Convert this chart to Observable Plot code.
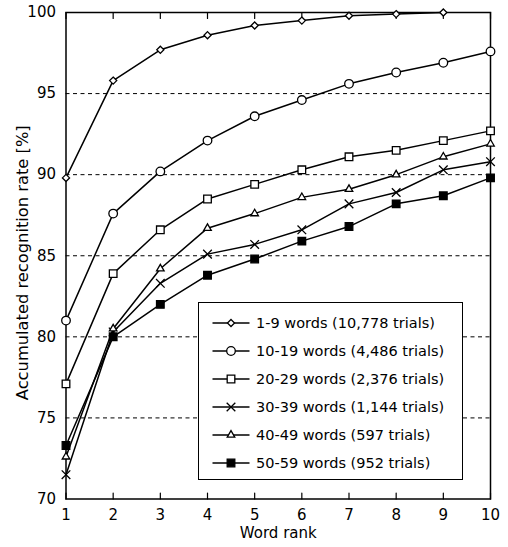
<!DOCTYPE html>
<html>
<head>
<meta charset="utf-8">
<script src="https://cdn.jsdelivr.net/npm/d3@7"></script>
<script src="https://cdn.jsdelivr.net/npm/@observablehq/plot@0.6"></script>
<style>
  body { margin: 0; background: #fff; }
  #wrap { position: relative; width: 508px; height: 547px; font-family: "DejaVu Sans", sans-serif; }
  #legend { position: absolute; left: 198px; top: 302px; width: 265px; height: 178px;
            border: 1.5px solid #000; background: #fff; box-sizing: border-box; }
  .row { position: absolute; left: 0; height: 20px; display: flex; align-items: center; }
  .row span { font-size: 14.5px; color: #000; white-space: nowrap; margin-left: 3px; }
</style>
</head>
<body>
<div id="wrap"></div>
<script>
// ---- data ----
const ranks = [1, 2, 3, 4, 5, 6, 7, 8, 9, 10];
const yTicks = [70, 75, 80, 85, 90, 95, 100];
const gridValues = [75, 80, 85, 90, 95];
const seriesNames = [
  "1-9 words (10,778 trials)",
  "10-19 words (4,486 trials)",
  "20-29 words (2,376 trials)",
  "30-39 words (1,144 trials)",
  "40-49 words (597 trials)",
  "50-59 words (952 trials)"
];
const words1_9   = [89.8, 95.8, 97.7, 98.6, 99.2, 99.5, 99.8, 99.9, 100.0];
const words10_19 = [81.0, 87.6, 90.2, 92.1, 93.6, 94.6, 95.6, 96.3, 96.9, 97.6];
const words20_29 = [77.1, 83.9, 86.6, 88.5, 89.4, 90.3, 91.1, 91.5, 92.1, 92.7];
const words30_39 = [71.5, 80.3, 83.3, 85.1, 85.7, 86.6, 88.2, 88.9, 90.3, 90.8];
const words40_49 = [72.6, 80.5, 84.2, 86.7, 87.6, 88.6, 89.1, 90.0, 91.1, 91.9];
const words50_59 = [73.3, 80.0, 82.0, 83.8, 84.8, 85.9, 86.8, 88.2, 88.7, 89.8];
const seriesValues = [words1_9, words10_19, words20_29, words30_39, words40_49, words50_59];

// ---- styles (separate from data) ----
const styles = [
  {symbol: "diamond2", r: 3.2, fill: "white"},
  {symbol: "circle",   r: 4.3, fill: "white"},
  {symbol: "square",   r: 4.3, fill: "white"},
  {symbol: "times",    r: 4.0, fill: "none"},
  {symbol: "triangle2", r: 3.6, fill: "white"},
  {symbol: "square",   r: 4.3, fill: "black"}
];
const d3Symbols = {
  diamond2: d3.symbolDiamond2, circle: d3.symbolCircle, square: d3.symbolSquare,
  times: d3.symbolTimes, triangle2: d3.symbolTriangle2
};

const rows = seriesValues.flatMap((vals, i) =>
  vals.map((v, j) => ({series: seriesNames[i], idx: i, rank: ranks[j], rate: v})));

const tickShape = {draw(context, l) { context.moveTo(0, 0); context.lineTo(0, -l); }};

const seriesMarks = seriesValues.flatMap((_, i) => {
  const d = rows.filter(r => r.idx === i);
  const s = styles[i];
  return [
    Plot.line(d, {x: "rank", y: "rate", stroke: "black", strokeWidth: 1.5}),
    Plot.dot(d, {x: "rank", y: "rate", symbol: () => s.symbol, r: s.r,
                 fill: s.fill, stroke: "black", strokeWidth: 1.3})
  ];
});

const chart = Plot.plot({
  width: 508,
  height: 547,
  marginLeft: 65.5,
  marginRight: 18,
  marginTop: 12,
  marginBottom: 48.5,
  style: {fontFamily: "DejaVu Sans, sans-serif", fontSize: "15px", color: "black", background: "white"},
  x: {domain: [1, 10], label: null},
  y: {domain: [70, 100], label: null},
  symbol: {type: "identity"},
  marks: [
    Plot.ruleY(gridValues, {y: d => d, stroke: "black", strokeWidth: 1, strokeDasharray: "4,3.5"}),
    Plot.vector(ranks, {x: d => d, frameAnchor: "bottom", length: 6, rotate: 0, anchor: "start",
                        shape: tickShape, stroke: "black", strokeWidth: 1.2}),
    Plot.vector(ranks, {x: d => d, frameAnchor: "top", length: 6, rotate: 180, anchor: "start",
                        shape: tickShape, stroke: "black", strokeWidth: 1.2}),
    Plot.frame({stroke: "black", strokeWidth: 1.5}),
    Plot.axisX(ranks, {tickSize: 0, tickPadding: 10.5, fontSize: 15, label: null}),
    Plot.axisY(yTicks, {tickSize: 0, tickPadding: 10, fontSize: 15, label: null}),
    Plot.text(["Word rank"], {frameAnchor: "bottom", dy: 34, textAnchor: "middle",
              lineAnchor: "middle", fontSize: 15}),
    Plot.text(["Accumulated recognition rate [%]"], {frameAnchor: "left", dx: -43, dy: 7,
              rotate: -90, textAnchor: "middle", lineAnchor: "middle", fontSize: 16.3}),
    ...seriesMarks
  ]
});

const wrap = document.getElementById("wrap");
wrap.appendChild(chart);

// ---- legend (inside plot area, HTML overlay) ----
const legend = document.createElement("div");
legend.id = "legend";
const rowSpacing = 28.1;
seriesNames.forEach((name, i) => {
  const s = styles[i];
  const row = document.createElement("div");
  row.className = "row";
  row.style.top = (19.7 + i * rowSpacing - 10) + "px";
  row.style.left = "12px";
  const svg = d3.create("svg").attr("width", 42).attr("height", 20);
  svg.append("line").attr("x1", 1.5).attr("x2", 38.5).attr("y1", 10).attr("y2", 10)
     .attr("stroke", "black").attr("stroke-width", 1.5);
  svg.append("path")
     .attr("d", d3.symbol(d3Symbols[s.symbol], Math.PI * s.r * s.r)())
     .attr("transform", "translate(20,10)")
     .attr("fill", s.fill).attr("stroke", "black").attr("stroke-width", 1.3);
  row.appendChild(svg.node());
  const span = document.createElement("span");
  span.textContent = name;
  row.appendChild(span);
  legend.appendChild(row);
});
wrap.appendChild(legend);
</script>
</body>
</html>
